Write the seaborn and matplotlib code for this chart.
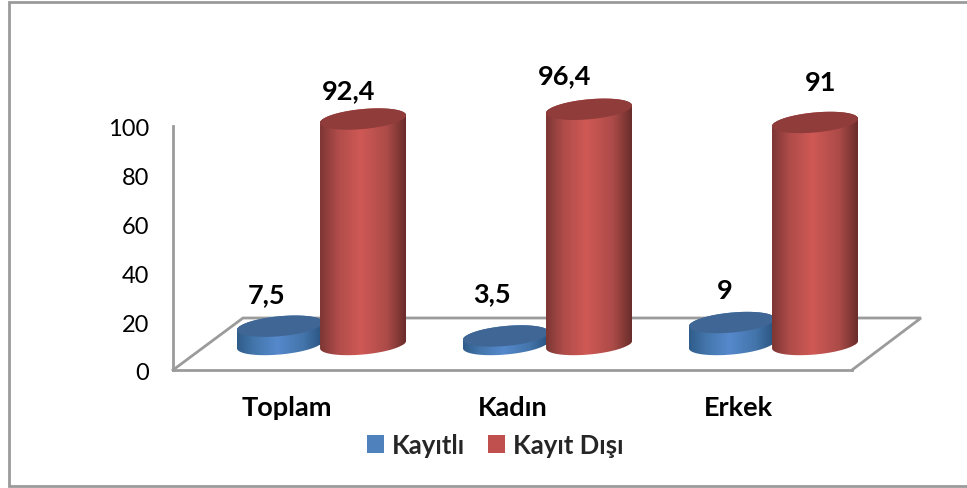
import numpy as np
import pandas as pd
import matplotlib
matplotlib.use("Agg")
import matplotlib.pyplot as plt
import seaborn as sns
from matplotlib.colors import LinearSegmentedColormap
from matplotlib.lines import Line2D
from matplotlib.patches import Patch, Polygon
from matplotlib.transforms import ScaledTranslation

# -----------------------------
# DATA
# -----------------------------
categories = ["Toplam", "Kadın", "Erkek"]
series_names = ["Kayıtlı", "Kayıt Dışı"]
kayitli = [7.5, 3.5, 9]
kayit_disi = [92.4, 96.4, 91]
y_ticks = [0, 20, 40, 60, 80, 100]

# label strings as printed, nudges in pixels from the top of each cylinder
kayitli_labels = ["7,5", "3,5", "9"]
kayit_disi_labels = ["92,4", "96,4", "91"]
kayitli_nudge = [(-13, -32), (-14, -43), (-7, -33)]
kayit_disi_nudge = [(-14, -29), (-24, -34), (6, -40)]

# -----------------------------
# STYLE
# -----------------------------
W, H = 967, 489
FONT = "Lato"
BOLD_SIZE = 19.5
LEGEND_SIZE = 18.5
GREY = "#9b9b9b"
PX_X = 226.0   # pixels per category
PX_Y = 2.44    # pixels per value unit
BASE_Y = 345.5  # pixel row of the cylinders' zero

STYLES = {
    "Kayıtlı": dict(legend="#4F81BD", cap="#3F6694",
                    body=["#2F5C8A", "#4476AC", "#5589CC", "#4374AA", "#2A5280"]),
    "Kayıt Dışı": dict(legend="#C0504D", cap="#8F3C3A",
                       body=["#7C3634", "#AE4C49", "#CF5955", "#AC4B48", "#692D2B"]),
}

sns.set_theme(style="white")
plt.rcParams["font.family"] = [FONT, "DejaVu Sans"]


def px_line(fig, xs, ys, lw=2.0):
    fig.add_artist(Line2D(np.array(xs) / W, 1 - np.array(ys) / H, color=GREY, lw=lw, zorder=-1,
                          solid_joinstyle="miter", solid_capstyle="projecting"))


def draw_cylinder(ax, bar, style, z):
    """Turn a seaborn bar into a shaded cylinder with a tilted cap."""
    x0, w, h = bar.get_x(), bar.get_width(), bar.get_height()
    cx = x0 + w / 2
    b, s = 10.0 / PX_Y, 3.8 / PX_Y

    t_low = np.linspace(np.pi, 2 * np.pi, 60)
    t_up = np.linspace(0, np.pi, 60)
    low = np.c_[cx + w / 2 * np.cos(t_low), b * np.sin(t_low) + s * np.cos(t_low)]
    up = np.c_[cx + w / 2 * np.cos(t_up), h + b * np.sin(t_up) + s * np.cos(t_up)]

    silhouette = Polygon(np.r_[low, up], closed=True, transform=ax.transData,
                         fc="none", ec="none")
    ax.add_patch(silhouette)
    bar.set_clip_path(silhouette)
    bar.set_zorder(z)

    cmap = LinearSegmentedColormap.from_list("c", list(zip([0, 0.2, 0.47, 0.78, 1], style["body"])))
    img = ax.imshow(np.linspace(0, 1, 256)[None, :], cmap=cmap, aspect="auto", zorder=z + 0.1,
                    extent=(cx - w / 2, cx + w / 2, -b - s, h + b + s), interpolation="bilinear")
    img.set_clip_path(silhouette)

    t = np.linspace(0, 2 * np.pi, 120)
    cap = np.c_[cx + w / 2 * np.cos(t), h + b * np.sin(t) + s * np.cos(t)]
    ax.add_patch(Polygon(cap, closed=True, fc=style["cap"], ec="none", zorder=z + 0.2))


def main():
    fig = plt.figure(figsize=(W / 100, H / 100), dpi=100, facecolor="white")

    # outer chart frame (right edge is cropped in the picture)
    px_line(fig, [W, 9, 9, W], [3, 3, 487, 487])

    # axis box: wall line, tick labels and category labels
    back = fig.add_axes([173 / W, 1 - 371 / H, (852 - 173) / W, 244 / H])
    back.set_xlim(-0.5055, 2.5055)
    back.set_ylim(0, 100)
    back.set_yticks(y_ticks)
    back.set_yticklabels([str(v) for v in y_ticks], fontsize=17, color="black")
    back.set_xticks(range(len(categories)))
    back.set_xticklabels(categories, fontsize=BOLD_SIZE, fontweight="bold", color="black")
    back.tick_params(axis="y", length=0, pad=17)
    back.tick_params(axis="x", length=0, pad=18)
    back.patch.set_visible(False)
    nudge = ScaledTranslation(0, -1 / 100, fig.dpi_scale_trans)
    for lab in back.get_yticklabels():
        lab.set_transform(lab.get_transform() + nudge)
    for side in ["top", "right"]:
        back.spines[side].set_visible(False)
    for side in ["left", "bottom"]:
        back.spines[side].set_color(GREY)
        back.spines[side].set_linewidth(2.0)

    # floor parallelogram
    px_line(fig, [173, 243, 921, 852], [371, 319, 319, 371])

    # cylinders, full figure axes so one unit is the same as on the wall
    ax = fig.add_axes([0, 0, 1, 1])
    ax.patch.set_visible(False)
    df = pd.DataFrame({
        "kategori": categories * 2,
        "seri": [series_names[0]] * 3 + [series_names[1]] * 3,
        "deger": kayitli + kayit_disi,
    })
    sns.barplot(data=df, x="kategori", y="deger", hue="seri", hue_order=series_names,
                palette=[STYLES[n]["legend"] for n in series_names], order=categories,
                width=0.735, gap=-0.035, saturation=1, legend=False, linewidth=0, ax=ax)

    z = 3
    for name, cont, labels, nudges in zip(series_names, ax.containers,
                                          [kayitli_labels, kayit_disi_labels],
                                          [kayitli_nudge, kayit_disi_nudge]):
        for bar, lab, (dx, dy) in zip(cont, labels, nudges):
            draw_cylinder(ax, bar, STYLES[name], z)
            ax.text(bar.get_x() + bar.get_width() / 2 + dx / PX_X, bar.get_height() - dy / PX_Y, lab,
                    ha="center", va="center", fontsize=BOLD_SIZE, fontweight="bold", color="black", zorder=20)
        z += 1

    ax.set_xlim(-321.5 / PX_X, (W - 321.5) / PX_X)
    ax.set_ylim((BASE_Y - H) / PX_Y, BASE_Y / PX_Y)
    ax.axis("off")

    handles = [Patch(fc=STYLES[n]["legend"], ec="none") for n in series_names]
    fig.legend(handles, series_names, loc="center left", bbox_to_anchor=(367 / W, 1 - 446 / H),
               ncol=2, frameon=False, borderpad=0, borderaxespad=0, handlelength=0.66, handleheight=0.66,
               handletextpad=0.3, columnspacing=0.9, prop=dict(family=FONT, size=LEGEND_SIZE, weight="bold"))

    fig.savefig("out.png", dpi=100)


if __name__ == "__main__":
    main()
